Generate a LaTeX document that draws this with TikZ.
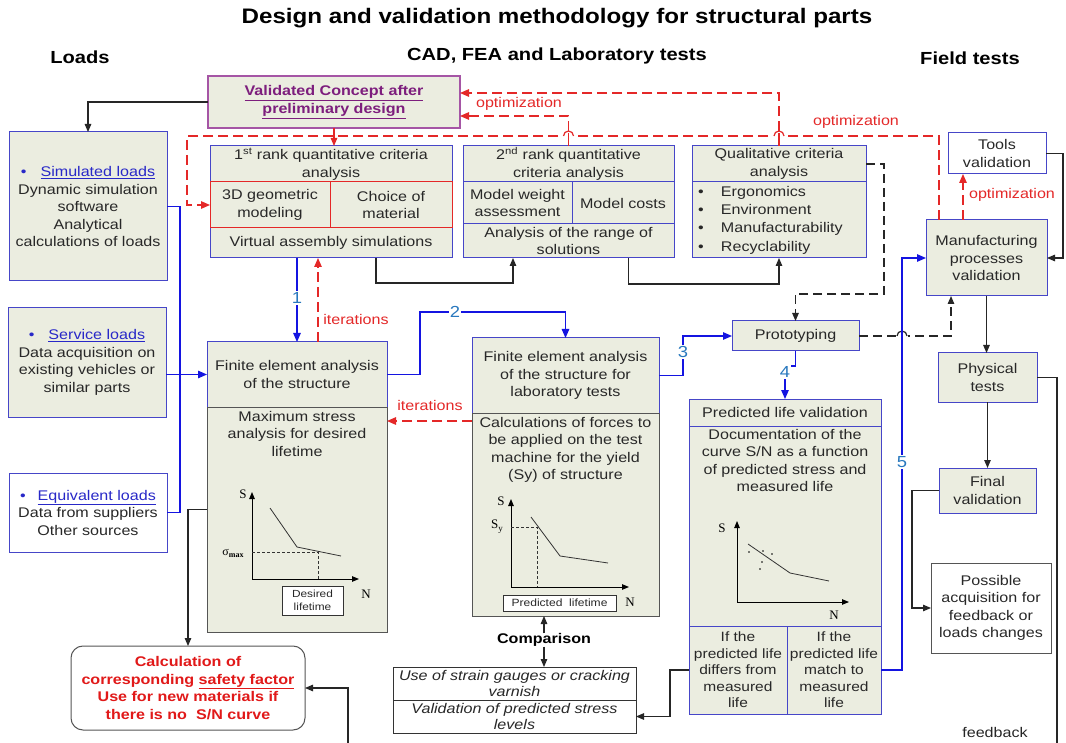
\documentclass[tikz,border=0pt]{standalone}
\usepackage{fontspec}
\setmainfont{Liberation Sans}[FakeStretch=1.15]
\newfontfamily\serif{Liberation Serif}
\usetikzlibrary{arrows.meta,calc}
\definecolor{boxfill}{RGB}{235,237,224}
\definecolor{bblue}{RGB}{70,70,200}
\definecolor{lblue}{RGB}{20,20,225}
\definecolor{nblue}{RGB}{40,120,190}
\definecolor{lnkblue}{RGB}{40,40,200}
\definecolor{rred}{RGB}{228,40,40}
\definecolor{safered}{RGB}{225,25,25}
\definecolor{purpt}{RGB}{125,30,125}
\definecolor{purpb}{RGB}{165,85,165}
\definecolor{grayb}{RGB}{85,85,85}
\definecolor{txtc}{RGB}{40,40,40}
\newcommand{\fb}{\fontsize{14}{17.5}\selectfont}
\newcommand{\fsm}{\fontsize{13.5}{16.5}\selectfont}
\newcommand{\rnode}[7]{\node[#1, minimum width={#5-#3}, minimum height={#6-#4}] (#2) at ({(#3+#5)/2},{(#4+#6)/2}) {#7};}
\newcommand{\hop}[3]{\fill[white] ({#1-6},{#2-3}) rectangle ({#1+6},{#2+3});
  \draw[#3, line width=1.2pt] ({#1-5},#2) arc[start angle=180,end angle=0,radius=5pt];}
\begin{document}
\begin{tikzpicture}[x=1pt,y=-1pt,
  base/.style={inner sep=0pt, outer sep=0pt, align=center, font=\fb, text=txtc},
  bbox/.style={base, draw=bblue, fill=boxfill, line width=1pt},
  gbox/.style={base, draw=grayb, fill=boxfill, line width=1pt},
  rbox/.style={base, draw=rred, fill=boxfill, line width=1pt},
  wbox/.style={base, draw=bblue, fill=white, line width=1pt},
  kbox/.style={base, draw=grayb, fill=white, line width=1pt},
  pbox/.style={base, draw=purpb, fill=boxfill, line width=1.2pt, text=purpt, font=\bfseries\fb},
  tip/.style={-{Triangle[length=8pt,width=6.5pt]}},
  kline/.style={draw=black!85, line width=1.1pt},
  karrow/.style={kline, tip},
  kdarrow/.style={kline, dash pattern=on 9pt off 5pt, tip},
  bline/.style={draw=lblue, line width=1.2pt},
  barrow/.style={bline, -{Triangle[length=9pt,width=7.5pt]}},
  rarrow/.style={draw=rred, line width=1.3pt, dash pattern=on 10pt off 5pt, -{Triangle[length=9pt,width=7.5pt]}},
  rsolid/.style={draw=rred, line width=1.1pt, tip},
  num/.style={font=\fontsize{16}{18}\selectfont, text=nblue, fill=white, inner sep=1pt},
  rlab/.style={font=\fb, text=rred, inner sep=1pt},
  hdr/.style={font=\bfseries\fontsize{17.5}{20}\selectfont, text=black},
  ax/.style={draw=black, line width=0.9pt, -{Triangle[length=7pt,width=5.5pt]}},
  crv/.style={draw=black!80, line width=0.8pt},
  dsh/.style={draw=black!80, line width=0.8pt, dash pattern=on 3pt off 2pt},
  glab/.style={font=\serif\fontsize{13}{14}\selectfont, text=black, inner sep=0pt}
]
\useasboundingbox (0,0) rectangle (1066,743);
\fill[white] (0,0) rectangle (1066,743);

% titles
\node[font=\bfseries\fontsize{21}{24}\selectfont, text=black] (title) at (557,18) {Design and validation methodology for structural parts};
\node[hdr] (hLoads) at (80,57) {Loads};
\node[hdr] (hCad) at (557,56) {CAD, FEA and Laboratory tests};
\node[hdr] (hField) at (970,58) {Field tests};

% validated concept
\rnode{pbox}{val}{208}{76}{460}{128}{\underline{Validated Concept after}\\\underline{preliminary design}}

% loads
\rnode{bbox}{sim}{9}{132}{167}{281}{{\color{lnkblue}\textbullet\hspace{14pt}\underline{Simulated loads}}\\Dynamic simulation\\software\\Analytical\\calculations of loads}
\rnode{bbox}{srv}{8}{308}{166}{417}{{\color{lnkblue}\textbullet\hspace{14pt}\underline{Service loads}}\\Data acquisition on\\existing vehicles or\\similar parts}
\rnode{wbox}{eqv}{9}{473}{167}{552}{{\color{lnkblue}\textbullet\hspace{12pt}\underline{Equivalent loads}}\\Data from suppliers\\Other sources}

% 1st rank
\rnode{bbox}{r1a}{210}{146}{452}{182}{1\textsuperscript{st} rank quantitative criteria\\analysis}
\rnode{bbox}{r1d}{210}{228}{452}{258}{Virtual assembly simulations}
\rnode{rbox}{r1b}{210}{182}{330}{228}{3D geometric\\modeling}
\rnode{rbox}{r1c}{330}{182}{452}{228}{Choice of\\material}

% 2nd rank
\rnode{bbox}{r2a}{463}{146}{674}{182}{2\textsuperscript{nd} rank quantitative\\criteria analysis}
\rnode{bbox}{r2b}{463}{182}{572}{224}{Model weight\\assessment}
\rnode{bbox}{r2c}{572}{182}{674}{224}{Model costs}
\rnode{bbox}{r2d}{463}{224}{674}{258}{Analysis of the range of\\solutions}

% qualitative
\rnode{bbox}{qa}{692}{146}{866}{182}{Qualitative criteria\\analysis}
\rnode{bbox}{qb}{692}{182}{866}{258}{}
\node[base, anchor=west, align=left, font=\fontsize{14}{18.3}\selectfont] (qlist) at ([xshift=6pt]qb.west)
 {\makebox[23pt][l]{\textbullet}Ergonomics\\\makebox[23pt][l]{\textbullet}Environment\\\makebox[23pt][l]{\textbullet}Manufacturability\\\makebox[23pt][l]{\textbullet}Recyclability};

% field
\rnode{wbox}{tools}{948}{133}{1046}{174}{Tools\\validation}
\rnode{bbox}{manu}{926}{220}{1047}{296}{Manufacturing\\processes\\validation}
\rnode{bbox}{proto}{732}{321}{859}{351}{Prototyping}
\rnode{bbox}{phys}{938}{353}{1037}{402}{Physical\\tests}
\rnode{bbox}{final}{939}{468}{1036}{513}{Final\\validation}
\rnode{kbox}{poss}{931}{563}{1051}{653}{Possible\\acquisition for\\feedback or\\loads changes}

% FEA structure
\rnode{bbox}{feaA}{207}{342}{387}{407}{Finite element analysis\\of the structure}
\rnode{gbox}{feaB}{207}{407}{387}{632}{}
\node[base, anchor=north] (feaBt) at ([yshift=-4pt]feaB.north) {Maximum stress\\analysis for desired\\lifetime};

% FEA lab
\rnode{bbox}{labA}{472}{338}{659}{413}{Finite element analysis\\of the structure for\\laboratory tests}
\rnode{gbox}{labB}{472}{413}{659}{616}{}
\node[base, anchor=north] (labBt) at ([yshift=-4pt]labB.north) {Calculations of forces to\\be applied on the test\\machine for the yield\\(Sy) of structure};

% predicted life
\rnode{bbox}{predA}{689}{399}{881}{426}{Predicted life validation}
\rnode{bbox}{predB}{689}{426}{881}{626}{}
\node[base, anchor=north] (predBt) at ([yshift=-3pt]predB.north) {Documentation of the\\curve S/N as a function\\of predicted stress and\\measured life};
\rnode{bbox, font=\fsm}{predL}{689}{626}{787}{714}{If the\\predicted life\\differs from\\measured\\life}
\rnode{bbox, font=\fsm}{predR}{787}{626}{881}{714}{If the\\predicted life\\match to\\measured\\life}

% strain gauges
\rnode{kbox, draw=black!80, font=\itshape\fontsize{14}{16}\selectfont}{strainA}{393}{667}{636}{700}{Use of strain gauges or cracking\\varnish}
\rnode{kbox, draw=black!80, font=\itshape\fontsize{14}{16}\selectfont}{strainB}{393}{700}{636}{733}{Validation of predicted stress\\levels}
\node[base, font=\bfseries\fb, text=black] (cmp) at (544,640) {Comparison};

% safety factor
\node[base, draw=grayb, fill=white, line width=1pt, rounded corners=12pt, minimum width=234, minimum height=84, text=safered, font=\bfseries\fontsize{14}{17.5}\selectfont] (safe) at (188,688)
 {Calculation of\\corresponding \underline{safety factor}\\Use for new materials if\\there is no~~S/N curve};

% ---- graphs ----
% FEA graph
\draw[ax] (252,579) -- (252,492);
\draw[ax] (252,579) -- (359,579);
\draw[crv] (270,508) -- (297,547) -- (341,556);
\draw[dsh] (252,552) -- (318,552) -- (318,579);
\node[glab] (gS1) at (243,494) {S};
\node[glab, font=\serif\fontsize{12}{13}\selectfont] (gsig) at (233,553) {σ\raisebox{-2pt}{\fontsize{8}{8}\selectfont\bfseries max}};
\node[glab] (gN1) at (366,594) {N};
\rnode{kbox, draw=black!80, font=\fontsize{10.3}{12.5}\selectfont}{dl}{282}{586}{343}{615}{Desired\\lifetime}

% lab graph
\draw[ax] (511,587) -- (511,499);
\draw[ax] (511,587) -- (629,587);
\draw[crv] (531,517) -- (560,556) -- (608,563);
\draw[dsh] (511,527) -- (537,527) -- (537,587);
\node[glab] (gS2) at (501,501) {S};
\node[glab] (gSy) at (497,527) {S\raisebox{-3pt}{\fontsize{9}{9}\selectfont y}};
\node[glab] (gN2) at (630,602) {N};
\rnode{kbox, draw=black!80, font=\fontsize{10.5}{12}\selectfont}{pl}{503}{595}{616}{611}{Predicted~~lifetime}

% pred graph
\draw[ax] (737,602) -- (737,521);
\draw[ax] (737,602) -- (849,602);
\draw[crv] (748,544) -- (790,573) -- (829,581);
\foreach \px/\py in {749/552,763/551,772/554,762/562,760/569}
  \fill[black] (\px,\py) circle[radius=0.9pt];
\node[glab] (gS3) at (722,528) {S};
\node[glab] (gN3) at (834,615) {N};

% ---- connectors ----
\draw[karrow] (val.west) -| (sim.north);
\draw[rsolid] (val.south) -- (val.south |- r1a.north);
\coordinate (lp) at (187,136);
\draw[rarrow] ([xshift=-47.5pt]manu.north) |- (lp) |- (r1b.west);
\draw[rarrow] (r2a.north) |- ([yshift=-14pt]val.east);
\draw[rarrow] (qa.north) |- ([yshift=9pt]val.east);
\hop{568.5}{136}{rred}
\hop{779}{136}{rred}
\draw[draw=rred, line width=1.3pt] (568.5,133) -- (r2a.north);
\draw[draw=rred, line width=1.3pt] (779,133) -- (qa.north);

% loads
\draw[bline] (sim.east) -| ([xshift=13pt]eqv.east) -- (eqv.east);
\draw[barrow] (srv.east |- feaA.west) -- (feaA.west);

% 1 and iterations
\draw[barrow] (feaA.north |- r1d.south) -- (feaA.north);
\draw[rarrow] ([xshift=21pt]feaA.north) -- ([xshift=21pt]feaA.north |- r1d.south);

% rank arrows
\draw[karrow] ([xshift=45pt]r1d.south) -- ++(0,25) -| ([xshift=-55.5pt]r2d.south);
\draw[karrow] ([xshift=60pt]r2d.south) -- ++(0,26) -| (qb.south);

% qualitative -> prototyping
\draw[kdarrow] (qa.east) -- ++(18,0) -- ++(0,130) -| (proto.north);

% 2,3,4,5
\draw[barrow] (feaA.east) -- ++(33,0) |- ([yshift=26pt]labA.north) -- (labA.north);
\draw[barrow] (labA.east) -- ++(24,0) |- (proto.west);
\draw[barrow] (proto.south) -- ++(0,15) -| (predA.north);
\draw[barrow] (predR.east) -- ++(21,0) |- (manu.west);

% prototyping -> manufacturing
\draw[kdarrow] (proto.east) -| ([xshift=-35.5pt]manu.south);
\hop{902}{336}{black!85}
\draw[bline] (902,330) -- (902,342);

% tools
\draw[karrow] (tools.east) -- ++(17,0) |- (manu.east);
\draw[rarrow] ([xshift=-34pt]tools.south |- manu.north) -- ([xshift=-34pt]tools.south);

% field chain
\draw[karrow] (manu.south) -- (manu.south |- phys.north);
\draw[karrow] (phys.south) -- (phys.south |- final.north);
\coordinate (fb2) at (1057,743);
\draw[kline] (phys.east) -| (fb2);
\draw[karrow] (final.west) -- ++(-27,0) |- (poss.west);

% lab iterations
\draw[rarrow] ([yshift=-8pt]labB.north west) -- ([yshift=-8pt]labB.north west -| feaB.east);

% safety factor
\draw[karrow] ([yshift=10pt]feaB.west) -| (safe.north);
\coordinate (fb1) at (348,743);
\draw[karrow] (fb1) |- (safe.east);

% comparison
\draw[karrow] (cmp.north) -- (cmp.north |- labB.south);
\draw[karrow] (cmp.south) -- (cmp.south |- strainA.north);

% predicted -> strain
\draw[karrow] (predL.west) -- ++(-19,0) |- (strainB.east);

% labels
\node[num] (n1) at (297,298) {1};
\node[num] (n2) at (455,312) {2};
\node[num] (n3) at (683,352) {3};
\node[num] (n4) at (785,372) {4};
\node[num] (n5) at (902,462) {5};
\node[rlab] (it1) at (356,319) {iterations};
\node[rlab] (it2) at (430,405) {iterations};
\node[rlab] (op1) at (519,104) {optimization};
\node[rlab] (op2) at (856,122) {optimization};
\node[rlab] (op3) at (1012,195) {optimization};
\node[base, text=black!85] (fbk) at (995,732) {feedback};
\end{tikzpicture}
\end{document}
